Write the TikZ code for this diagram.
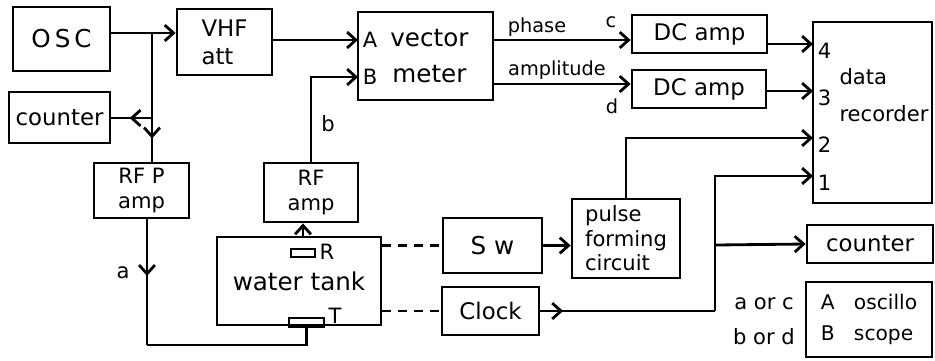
\documentclass[tikz,border=0pt]{standalone}
\usepackage{fontspec}
\setmainfont{DejaVu Sans}
\usetikzlibrary{decorations.markings, arrows.meta}
\tikzset{
  >={Straight Barb[length=5pt, width=9pt]},
  blk/.style={draw, inner sep=2pt, align=center},
  midarrow/.style={postaction={decorate},
    decoration={markings, mark=at position #1 with {\arrow{>}}}},
  lbl/.style={inner sep=0pt, font=\fontsize{11}{13}\selectfont}
}
\begin{document}
\begin{tikzpicture}[x=0.02cm, y=-0.02cm, line width=1.6pt, font=\fontsize{12}{14}\selectfont]
\useasboundingbox (0,0) rectangle (935,360);
% boxes
\node[blk, minimum width=1.94cm, minimum height=1.28cm, font=\fontsize{14}{16}\selectfont] (osc) at (61.5,39) {O\,S\,C};
\node[blk, align=left, minimum width=1.90cm, minimum height=1.32cm, font=\fontsize{13}{15}\selectfont] (vhf) at (224.5,42) {VHF\\[1pt]att};
\node[blk, minimum width=2.02cm, minimum height=1.02cm, font=\fontsize{13}{15}\selectfont] (cnta) at (59.5,117.5) {counter};
\node[blk, minimum width=1.90cm, minimum height=1.10cm] (rfp) at (141.5,190.5) {RF P\\amp};
\node[blk, minimum width=1.88cm, minimum height=1.18cm] (rfamp) at (311,192.5) {RF\\amp};
\node[blk, minimum width=3.28cm, minimum height=1.76cm, font=\fontsize{14}{16}\selectfont] (tank) at (299,281) {water tank};
\node[blk, minimum width=2.70cm, minimum height=1.76cm, font=\fontsize{14}{16}\selectfont] (vm) at (425.5,56) {\ vector\\[5pt]\ meter};
\node[blk, minimum width=2.70cm, minimum height=0.76cm, font=\fontsize{13}{15}\selectfont] (dc1) at (699.5,34) {DC amp};
\node[blk, minimum width=2.68cm, minimum height=0.76cm, font=\fontsize{13}{15}\selectfont] (dc2) at (699,89) {DC amp};
\node[blk, minimum width=2.38cm, minimum height=3.62cm] (rec) at (872.5,112.5) {};
\node[align=left, inner sep=0pt, font=\fontsize{12}{14}\selectfont] (rectext) at (884,95) {data\\[7pt]recorder};
\node[blk, align=left, minimum width=2.16cm, minimum height=1.58cm] (pulse) at (626,238.5) {pulse\\forming\\circuit};
\node[blk, minimum width=1.98cm, minimum height=1.10cm, font=\fontsize{14}{16}\selectfont] (sw) at (492.5,245.5) {S w};
\node[blk, minimum width=1.94cm, minimum height=0.96cm, font=\fontsize{13}{15}\selectfont] (clock) at (490.5,311) {Clock};
\node[blk, minimum width=2.52cm, minimum height=0.76cm, font=\fontsize{13}{15}\selectfont] (cntb) at (870,244) {counter};
\node[blk, align=left, minimum width=2.52cm, minimum height=1.50cm, font=\fontsize{11.5}{13}\selectfont] (scope) at (869,319.5) {A\ \ \ oscillo\\[5pt]B\ \ \ scope};
% transducers in the tank
\node[draw, line width=1.2pt, inner sep=0pt, minimum width=0.48cm, minimum height=0.16cm] (rx) at (303,253) {};
\node[draw, line width=1.2pt, inner sep=0pt, minimum width=0.70cm, minimum height=0.18cm] (tx) at (306.5,322.5) {};
\node[inner sep=0pt] (rlbl) at (327,252) {R};
\node[inner sep=0pt] (tlbl) at (335,316) {T};
% ports
\coordinate (pa) at (358,40);
\coordinate (pb) at (358,77);
\coordinate (pc) at (493,40);
\coordinate (pd) at (493,84);
\coordinate (r4) at (813,44);
\coordinate (r3) at (813,91);
\coordinate (r2) at (813,138);
\coordinate (r1) at (813,176);
\coordinate (j1) at (152,33);
\coordinate (j2) at (152,118);
\coordinate (j3) at (147,345);
\coordinate (j4) at (715,311);
\coordinate (j5) at (715,245);
\node[anchor=west, inner sep=2pt] at (pa) {A};
\node[anchor=west, inner sep=2pt] at (pb) {B};
\foreach \p/\n in {r4/4, r3/3, r2/2, r1/1}
  {\node[anchor=west, inner sep=2pt, yshift=-4pt] at (\p) {\n};}
% connectors
\draw (j1 -| osc.east) -- (j1);
\draw[->] (j1) -- (j1 -| vhf.west);
\draw[midarrow=0.82] (j1) -- (j1 |- rfp.north);
\draw[midarrow=0.55] (j2) -- (j2 -| cnta.east);
\draw[midarrow=0.45] (j3 |- rfp.south) -- (j3);
\draw (j3) -| (tx.south);
\draw[->] (tank.north -| rx) -- (rfamp.south -| rx);
\draw[->] (rfamp.north) |- (pb);
\draw[->] (vhf.east |- pa) -- (pa);
\draw[->] (pc) -- (pc -| dc1.west);
\draw[->] (pd) -- (pd -| dc2.west);
\draw[->] (r4 -| dc1.east) -- (r4);
\draw[->] (r3 -| dc2.east) -- (r3);
\draw[->] (pulse.north) |- (r2);
\draw[->] (sw.east) -- (sw.east -| pulse.west);
\draw[midarrow=0.13] (clock.east) -- (j4);
\draw[->] (j4) |- (r1);
\draw[->] (j5) -- (cntb.west);
\draw[dash pattern=on 5pt off 4pt] (tank.east |- sw.west) -- (sw.west);
\draw[dash pattern=on 5pt off 4pt] (tank.east |- clock.west) -- (clock.west);
% labels
\node[lbl] at (537,27) {phase};
\node[lbl] at (611,22) {c};
\node[lbl] at (557,70) {amplitude};
\node[lbl] at (612,106) {d};
\node[lbl, font=\fontsize{12}{14}\selectfont] at (123,273) {a};
\node[lbl, font=\fontsize{12}{14}\selectfont] at (328,124) {b};
\node[lbl, font=\fontsize{12}{14}\selectfont] at (764,304) {a or c};
\node[lbl, font=\fontsize{12}{14}\selectfont] at (764,337) {b or d};
\end{tikzpicture}
\end{document}
